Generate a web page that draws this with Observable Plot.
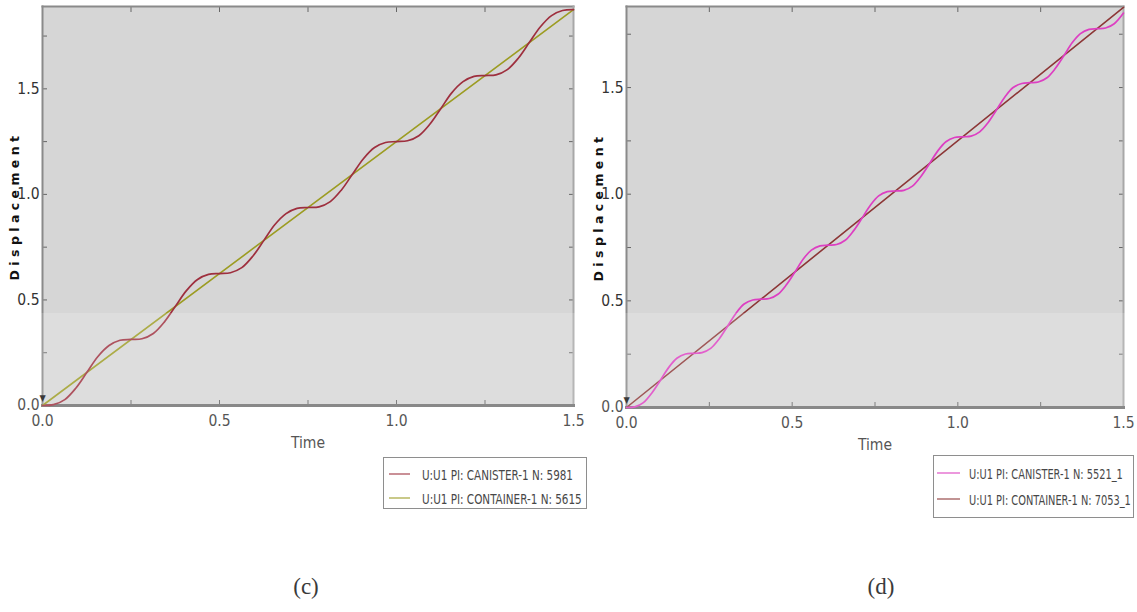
<!DOCTYPE html>
<html><head><meta charset="utf-8">
<script src="https://cdn.jsdelivr.net/npm/d3@7"></script>
<script src="https://cdn.jsdelivr.net/npm/@observablehq/plot@0.6"></script>
<style>
body{margin:0;background:#fff;width:1137px;height:612px;overflow:hidden;position:relative;font-family:"DejaVu Sans Condensed","DejaVu Sans",sans-serif;}
.panel{position:absolute;top:0;}
g[aria-label="y-axis label"] text{font-family:"DejaVu Sans",sans-serif;font-weight:bold;font-size:12.5px;letter-spacing:4.4px;fill:#111;}
.cap{position:absolute;font-family:"Liberation Serif","DejaVu Serif",serif;font-size:23px;color:#111;transform:translateX(-50%);}
.veil{position:absolute;left:0;top:313px;width:1137px;height:299px;background:rgba(255,255,255,0.17);pointer-events:none;}
#overlay{position:absolute;left:0;top:0;}
</style></head>
<body>
<div id="left" class="panel" style="left:0"></div>
<div id="right" class="panel" style="left:580px"></div>
<div class="cap" style="left:306px;top:574px">(c)</div>
<div class="cap" style="left:881px;top:574px">(d)</div>
<svg id="overlay" width="1137" height="612"></svg>
<div class="veil"></div>
<script>
// ---- data ----
const majorTicks = [0, 0.5, 1.0, 1.5];
const quarterTicks = [0, 0.25, 0.5, 0.75, 1.0, 1.25, 1.5, 1.75];
const tickLabels = ["0.0", "0.5", "1.0", "1.5"];

// panel (c)
const seriesNamesC = ["U:U1 PI: CANISTER-1 N: 5981", "U:U1 PI: CONTAINER-1 N: 5615"];
const timeC = [0,0.031,0.063,0.094,0.125,0.156,0.188,0.219,0.25,
  0.281,0.313,0.344,0.375,0.406,0.438,0.469,0.5,
  0.531,0.563,0.594,0.625,0.656,0.688,0.719,0.75,
  0.781,0.813,0.844,0.875,0.906,0.938,0.969,1.0,
  1.031,1.063,1.094,1.125,1.156,1.188,1.219,1.25,
  1.281,1.313,1.344,1.375,1.406,1.438,1.469,1.5];
const canisterC = [0,0.004,0.028,0.082,0.156,0.231,0.284,0.309,0.313,
  0.316,0.341,0.395,0.469,0.543,0.597,0.621,0.625,
  0.629,0.653,0.707,0.781,0.856,0.909,0.934,0.938,
  0.941,0.966,1.020,1.094,1.168,1.222,1.246,1.250,
  1.254,1.278,1.332,1.406,1.481,1.534,1.559,1.563,
  1.566,1.591,1.645,1.719,1.793,1.847,1.871,1.875];
const containerTimeC = [0, 1.5];
const containerC = [0, 1.875];

// panel (d)
const seriesNamesD = ["U:U1 PI: CANISTER-1 N: 5521_1", "U:U1 PI: CONTAINER-1 N: 7053_1"];
const timeD = [0,0.025,0.051,0.076,0.102,0.127,0.152,0.178,0.203,
  0.228,0.254,0.279,0.305,0.330,0.355,0.381,0.406,
  0.431,0.457,0.482,0.508,0.533,0.558,0.584,0.609,
  0.634,0.660,0.685,0.711,0.736,0.761,0.787,0.812,
  0.837,0.863,0.888,0.914,0.939,0.964,0.990,1.015,
  1.040,1.066,1.091,1.117,1.142,1.167,1.193,1.218,
  1.243,1.269,1.294,1.320,1.345,1.370,1.396,1.421,
  1.446,1.472,1.5];
const canisterD = [0,0.003,0.023,0.067,0.127,0.187,0.231,0.251,0.254,
  0.257,0.277,0.320,0.381,0.441,0.485,0.504,0.508,
  0.511,0.531,0.574,0.634,0.695,0.738,0.758,0.761,
  0.764,0.784,0.828,0.888,0.948,0.992,1.012,1.015,
  1.018,1.038,1.082,1.142,1.202,1.246,1.266,1.269,
  1.272,1.292,1.335,1.396,1.456,1.500,1.519,1.523,
  1.526,1.546,1.589,1.649,1.710,1.753,1.773,1.776,
  1.779,1.799,1.849];
const containerTimeD = [0, 1.5];
const containerD = [0, 1.876];

const colorsC = ["#9e2f3e", "#9c9c22"];
const colorsD = ["#dd3fc2", "#8c3636"];

function panel({time, canister, cTime, container, colA, colB, width, mLeft, mRight, mBottom, yMax}) {
  const A = time.map((t, i) => ({t, v: canister[i]}));
  const B = cTime.map((t, i) => ({t, v: container[i]}));
  const fmt = d => tickLabels[majorTicks.indexOf(d)];
  return Plot.plot({
    width, height: 460,
    marginLeft: mLeft, marginRight: mRight, marginTop: 6, marginBottom: mBottom,
    style: {background: "transparent", fontFamily: '"DejaVu Sans Condensed","DejaVu Sans",sans-serif', fontSize: "15.5px", color: "#333"},
    x: {domain: [0, 1.5]},
    y: {domain: [0, yMax]},
    marks: [
      Plot.frame({fill: "#d6d6d6", stroke: null}),
      Plot.axisX(quarterTicks.filter(d => d <= 1.5), {anchor: "bottom", tickSize: -5, tickFormat: () => "", label: null, stroke: "#666"}),
      Plot.axisX(quarterTicks.filter(d => d <= 1.5), {anchor: "top", tickSize: -5, tickFormat: () => "", label: null, stroke: "#666"}),
      Plot.axisY(quarterTicks, {anchor: "left", tickSize: -5, tickFormat: () => "", label: null, stroke: "#666"}),
      Plot.axisY(quarterTicks, {anchor: "right", tickSize: -5, tickFormat: () => "", label: null, stroke: "#666"}),
      Plot.axisX(majorTicks, {anchor: "bottom", tickSize: 0, tickPadding: 9, tickFormat: fmt, label: "Time", labelAnchor: "center", labelOffset: 42, labelArrow: "none", fill: "#333"}),
      Plot.axisY(majorTicks, {anchor: "left", tickSize: 0, tickPadding: 3, tickFormat: fmt, label: null, fill: "#333"}),
      Plot.axisY([], {anchor: "left", tickSize: 0, label: "Displacement", labelAnchor: "center", labelOffset: 32, labelArrow: "none"}),
      Plot.frame({anchor: "top", stroke: "#8a8a8a", strokeWidth: 2}),
      Plot.frame({anchor: "right", stroke: "#a8a8a8", strokeWidth: 2}),
      Plot.frame({anchor: "left", stroke: "#8a8a8a", strokeWidth: 2}),
      Plot.frame({anchor: "bottom", stroke: "#707070", strokeWidth: 3}),
      Plot.line(B, {x: "t", y: "v", stroke: colB, strokeWidth: 1.6}),
      Plot.line(A, {x: "t", y: "v", stroke: colA, strokeWidth: 1.7, curve: "catmull-rom"}),
      Plot.text([{t: 0, v: 0}], {x: "t", y: "v", text: () => "▼", fontSize: 9, dy: -7, fill: "#111"})
    ]
  });
}

document.getElementById("left").append(panel({
  time: timeC, canister: canisterC, cTime: containerTimeC, container: containerC,
  colA: colorsC[0], colB: colorsC[1], width: 600, mLeft: 42, mRight: 27, mBottom: 55, yMax: 1.89
}));
document.getElementById("right").append(panel({
  time: timeD, canister: canisterD, cTime: containerTimeD, container: containerD,
  colA: colorsD[0], colB: colorsD[1], width: 557, mLeft: 46, mRight: 14, mBottom: 53, yMax: 1.88
}));

// ---- legends ----
const ov = d3.select("#overlay");
function legend(box, names, colors, rows, sw, textX, lens) {
  const g = ov.append("g");
  g.append("rect").attr("x", box[0] + 0.5).attr("y", box[1] + 0.5).attr("width", box[2]).attr("height", box[3])
    .attr("fill", "#fff").attr("stroke", "#777").attr("stroke-width", 1);
  names.forEach((n, i) => {
    g.append("line").attr("x1", sw[0]).attr("x2", sw[1]).attr("y1", rows[i]).attr("y2", rows[i])
      .attr("stroke", colors[i]).attr("stroke-width", 1.5).attr("opacity", 0.85);
    const tg = g.append("g");
    const t = tg.append("text").attr("x", 0).attr("y", 0).text(n)
      .attr("font-family", '"DejaVu Sans Condensed","DejaVu Sans",sans-serif').attr("font-size", 14.5)
      .attr("fill", "#222");
    const natural = t.node().getComputedTextLength() || lens[i];
    tg.attr("transform", `translate(${textX},${rows[i] + 5.5}) scale(${lens[i] / natural},1)`);
  });
}
legend([383, 457, 203, 51], seriesNamesC, colorsC, [474, 498], [389, 410], 422, [151, 160]);
legend([933, 455, 200, 62], seriesNamesD, colorsD, [473, 499], [937, 960], 969, [154, 162]);
</script>
</body></html>
